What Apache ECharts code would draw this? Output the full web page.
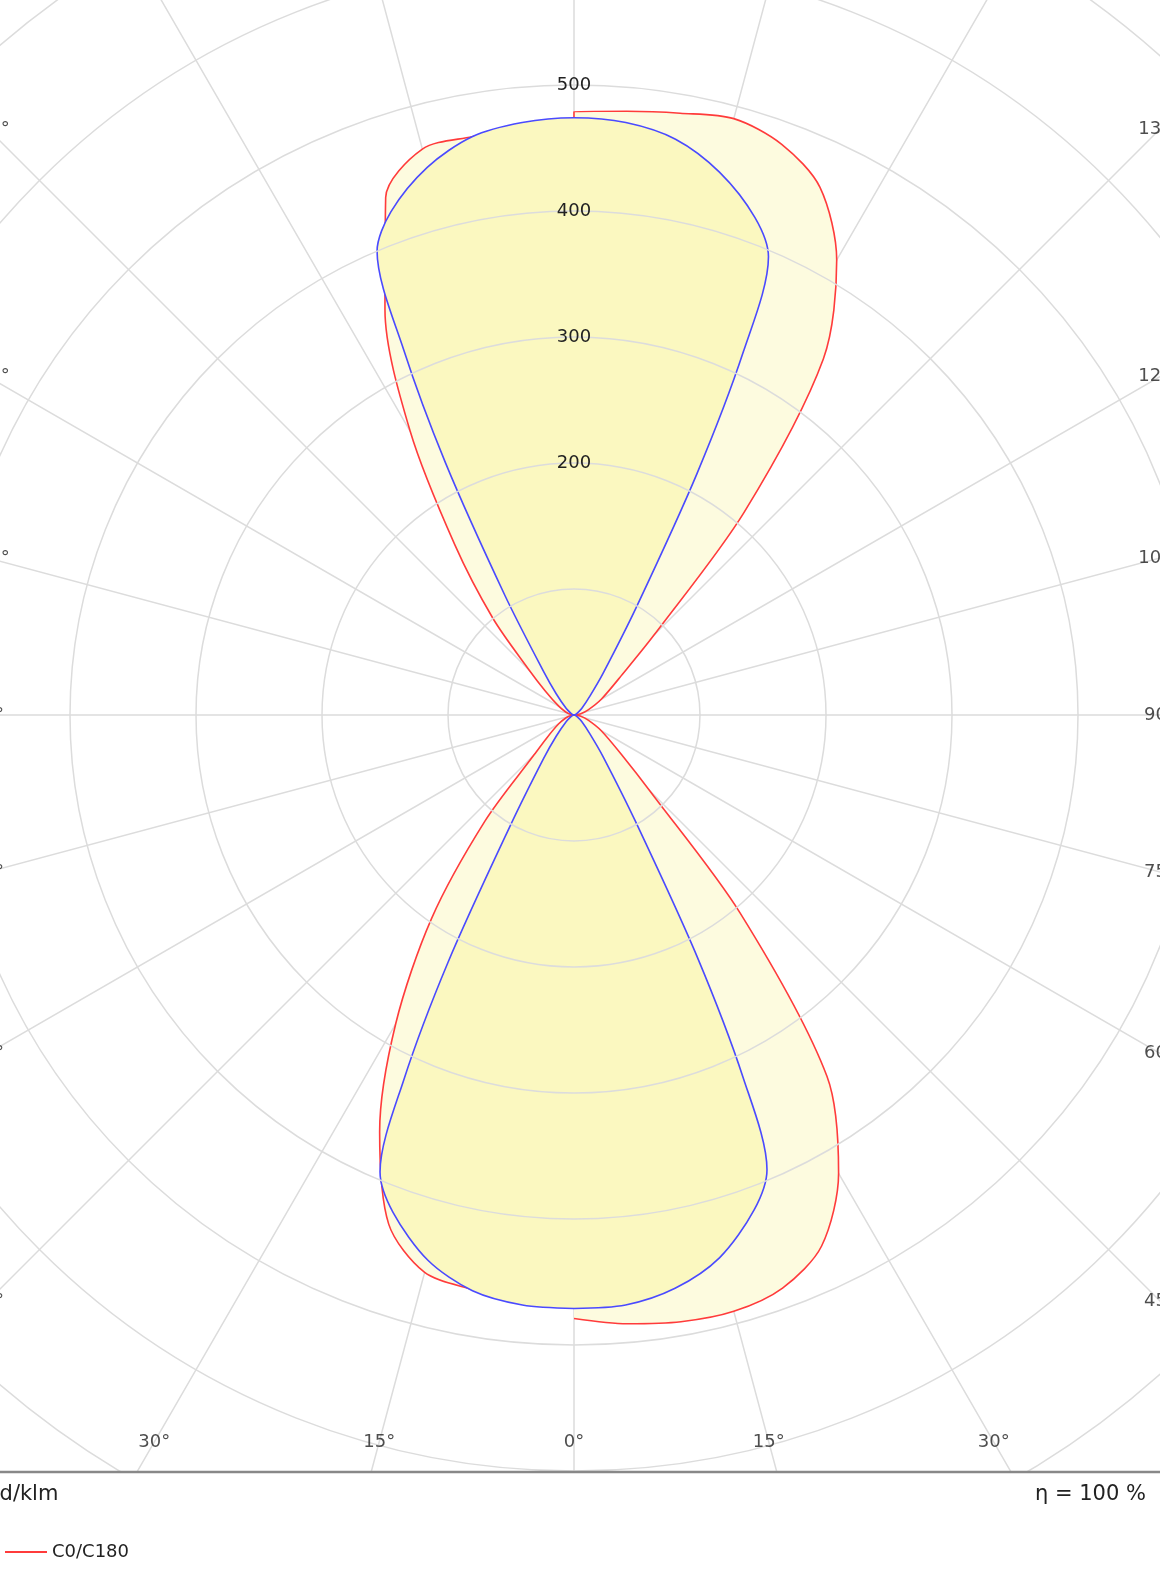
<!DOCTYPE html>
<html style="height: 100%">
<head>
    <meta charset="utf-8">
    <script src="https://cdn.jsdelivr.net/npm/echarts@6/dist/echarts.min.js"></script>
</head>
<body style="height: 100%; margin: 0; background: #fff">
    <div id="main" style="width: 1160px; height: 1582px"></div>
    <script type="text/javascript">
        // gamma angles (0 = straight down, 180 = straight up), values in cd/klm
        var redGamma = [0, 5, 10, 15, 20, 25, 30, 35, 40, 45, 50, 60, 70, 80, 90, 100, 110, 120, 130, 135, 140, 145, 150, 155, 160, 165, 170, 175, 180];
        var redLeft = [470, 468, 463, 458, 430, 365, 283, 197, 110, 45, 28, 14, 7, 3, 0, 3, 7, 14, 30, 50, 100, 165, 260, 355, 437, 465, 466, 468, 470];
        var redRight = [479, 485, 489, 490, 484, 465, 420, 350, 205, 85, 50, 25, 12, 5, 0, 5, 12, 25, 50, 90, 210, 345, 417, 462, 482, 490, 485, 481, 479];

        var blueGamma = [0, 5, 10, 15, 20, 23, 25, 27, 30, 35, 40, 50, 60, 70, 90, 110, 120, 130, 140, 145, 150, 153, 155, 157, 160, 165, 170, 175, 180];
        var blueLeft = [471, 470, 464, 448, 420, 394, 320, 220, 100, 42, 22, 8, 3, 1, 0, 1, 3, 8, 22, 42, 110, 225, 320, 400, 425, 450, 466, 472, 474];
        var blueRight = [471, 470, 462, 446, 418, 392, 318, 215, 98, 40, 20, 8, 3, 1, 0, 1, 3, 8, 20, 40, 100, 215, 318, 395, 420, 446, 464, 472, 474];

        var labelAngles = [];
        for (var a = 0; a < 360; a += 15) labelAngles.push(a);

        var PX = 1.26; // pixels per cd/klm unit
        function loop(gam, left, right) {
            var d = [];
            for (var i = 0; i < gam.length; i++) d.push([left[i], 180 + gam[i]]);
            for (var j = gam.length - 1; j >= 0; j--) d.push([right[j], 180 - gam[j]]);
            return d;
        }
        // angle labels sit where each ray meets the plot frame
        var labelData = labelAngles.map(function (v) {
            var r = v * Math.PI / 180, dx = Math.abs(Math.sin(r)), dy = -Math.cos(r);
            var t = 1e9;
            if (dx > 1e-6) t = Math.min(t, 586 / dx);
            if (dy > 1e-6) t = Math.min(t, 727 / dy);
            if (dy < -1e-6) t = Math.min(t, 750 / -dy);
            return [t / PX, v];
        });

        var chart = echarts.init(document.getElementById('main'));
        var option = {
            animation: false,
            polar: { center: [574, 715], radius: 960 * PX },
            angleAxis: {
                type: 'value', min: 0, max: 360, interval: 15,
                startAngle: 90, clockwise: true,
                axisLine: { show: false },
                axisTick: { show: false },
                axisLabel: { show: false },
                splitLine: { lineStyle: { color: '#dcdcdc', width: 1.5 } }
            },
            radiusAxis: {
                min: 0, max: 960, interval: 100,
                axisLine: { show: false },
                axisTick: { show: false },
                axisLabel: {
                    margin: 0, align: 'center', verticalAlign: 'middle',
                    fontFamily: 'DejaVu Sans', fontSize: 18, color: '#222',
                    formatter: function (v) { return (v >= 200 && v <= 500) ? v : ''; }
                },
                splitLine: { lineStyle: { color: '#dcdcdc', width: 1.5 } },
                z: 5
            },
            legend: {
                orient: 'vertical', left: 0, top: 1538, itemWidth: 42, itemHeight: 2, z: 30,
                icon: 'rect',
                textStyle: { fontFamily: 'DejaVu Sans', fontSize: 18, color: '#222' },
                data: ['C0/C180']
            },
            series: [
                {
                    name: 'C0/C180', type: 'line', coordinateSystem: 'polar', symbol: 'none', smooth: 0.3,
                    data: loop(redGamma, redLeft, redRight),
                    lineStyle: { color: '#ff3b3b', width: 1.6 },
                    itemStyle: { color: '#ff3b3b' },
                    areaStyle: { color: '#fdfbdf', opacity: 1 }, z: 2
                },
                {
                    name: 'C90/C270', type: 'line', coordinateSystem: 'polar', symbol: 'none', smooth: 0.3,
                    data: loop(blueGamma, blueLeft, blueRight),
                    lineStyle: { color: '#4a4aff', width: 1.6 },
                    itemStyle: { color: '#4a4aff' },
                    areaStyle: { color: '#fbf8c0', opacity: 1 }, z: 3
                },
                {
                    name: 'angles', type: 'scatter', coordinateSystem: 'polar', symbolSize: 0, silent: true,
                    data: labelData, z: 6,
                    label: {
                        show: true, position: 'inside',
                        fontFamily: 'DejaVu Sans', fontSize: 18, color: '#222',
                        formatter: function (p) {
                            var v = p.value[1];
                            return (v <= 180 ? 180 - v : v - 180) + '°';
                        }
                    }
                }
            ],
            graphic: [
                { type: 'rect', z: 20, shape: { x: 0, y: 1472, width: 1160, height: 110 }, style: { fill: '#fff' } },
                { type: 'line', z: 21, shape: { x1: 0, y1: 1472, x2: 1160, y2: 1472 }, style: { stroke: '#888', lineWidth: 2.5 } },
                { type: 'text', z: 21, x: -12, y: 1495, style: { text: 'cd/klm', fontFamily: 'DejaVu Sans', fontSize: 21, fill: '#222', verticalAlign: 'middle' } },
                { type: 'text', z: 21, x: 1035, y: 1495, style: { text: 'η = 100 %', fontFamily: 'DejaVu Sans', fontSize: 21, fill: '#222', verticalAlign: 'middle' } }
            ]
        };
        chart.setOption(option);
    </script>
</body>
</html>
